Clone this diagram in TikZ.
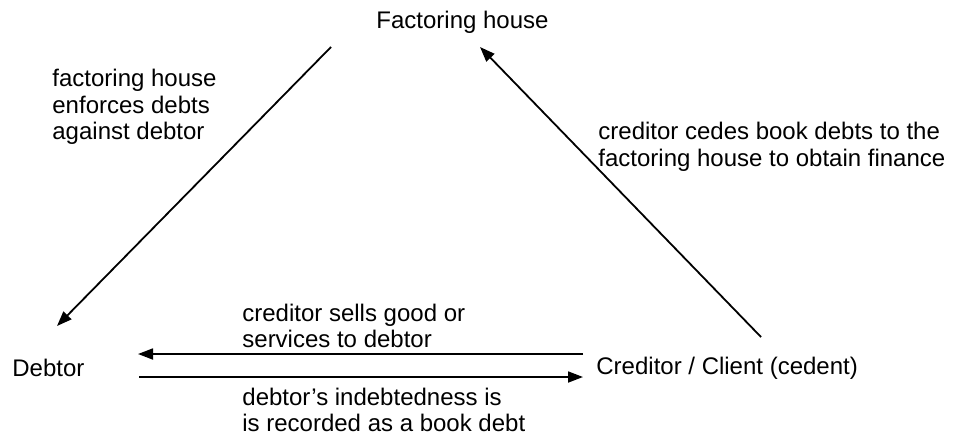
\documentclass[tikz,border=0pt]{standalone}
\usepackage{fontspec}
\setmainfont{Liberation Sans}
\usetikzlibrary{arrows.meta, positioning}

\begin{document}
\begin{tikzpicture}[x=0.5pt, y=-0.5pt,
  font=\fontsize{12}{13.3}\selectfont,
  party/.style={anchor=west, inner sep=0pt},
  note/.style={anchor=west, inner sep=0pt, align=left},
  arr/.style={-{Triangle[length=7.5pt, width=5.5pt]}, line width=0.9pt}
]
\useasboundingbox (0,0) rectangle (961,439);

% parties
\node[party] (fh) at (376,22)  {Factoring house};
\node[party] (db) at (12,368)  {Debtor};
\node[party] (cr) at (596,368) {Creditor / Client (cedent)};

% arrow ends
\coordinate (fhl) at (331,47);
\coordinate (fhr) at (480,47);
\coordinate (dbt) at (57,326);
\coordinate (crt) at (761,337);
\coordinate (dbu) at (138,354);
\coordinate (dbd) at (139,377);
\coordinate (cru) at (583,354);
\coordinate (crd) at (583,377);

\draw[arr] (fhl) -- (dbt);
\draw[arr] (crt) -- (fhr);
\draw[arr] (cru) -- (dbu);
\draw[arr] (dbd) -- (crd);

% labels
\node[note] (enf) at (52,107)  {factoring house\\enforces debts\\against debtor};
\node[note] (ced) at (598,147) {creditor cedes book debts to the\\factoring house to obtain finance};
\node[note] (sel) at (242,326) {creditor sells good or\\services to debtor};
\node[note] (rec) at (242,410) {debtor’s indebtedness is\\is recorded as a book debt};
\end{tikzpicture}
\end{document}
